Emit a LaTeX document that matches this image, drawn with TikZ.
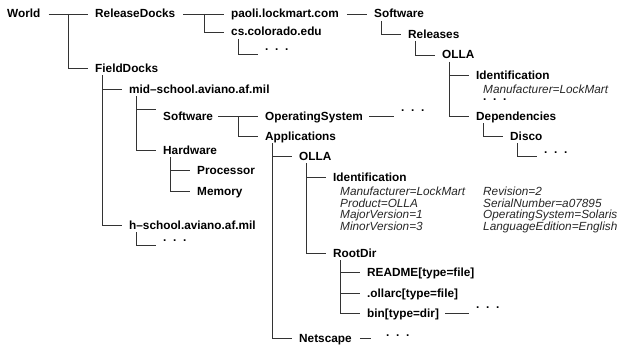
\documentclass[tikz,border=0pt]{standalone}
\usepackage{fontspec}
\setmainfont{Liberation Sans}
\tikzset{
  lbl/.style={anchor=base west,inner sep=0pt,font=\fontsize{11.8}{12}\selectfont\bfseries},
  attr/.style={anchor=base west,inner sep=0pt,font=\fontsize{11.8}{12}\selectfont\itshape,text=black!85},
  dotsn/.style={anchor=base west,inner sep=0pt,font=\fontsize{11.8}{12}\selectfont\bfseries},
  conn/.style={draw=black!80,line width=0.8pt}
}
% branch from parent down to child: #1 = height of the line above the child's baseline
\newcommand{\treebranch}[3][4pt]{\draw[conn] ([shift={(7pt,-3pt)}]#2.base west) |- ([shift={(-7pt,#1)}]#3.base west);}
% sibling branch: vertical drops from the horizontal link to the parent's first child
\newcommand{\forkbranch}[2]{\draw[conn] ([shift={(-27pt,4pt)}]#1.base west) |- ([shift={(-7pt,4pt)}]#2.base west);}
% straight link
\newcommand{\treelink}[3][8pt]{\draw[conn] ([shift={(#1,4pt)}]#2.base east) -- ([shift={(-7pt,4pt)}]#3.base west);}
\newcommand{\ddd}{.\hspace{6.7pt}.\hspace{6.7pt}.}
\begin{document}
\begin{tikzpicture}[x=1pt,y=-1pt]
\useasboundingbox (0,0) rectangle (618,345);
\node[lbl] (world) at (7,18) {World};
\node[lbl] (rd) at (95,18) {ReleaseDocks};
\node[lbl] (paoli) at (231,18) {paoli.lockmart.com};
\node[lbl] (sw1) at (374,18) {Software};
\node[lbl] (cs) at (231,36) {cs.colorado.edu};
\node[dotsn] (d1) at (265,50.5) {\ddd};
\node[lbl] (rel) at (408,38) {Releases};
\node[lbl] (olla1) at (442,59) {OLLA};
\node[lbl] (id1) at (476,79) {Identification};
\node[attr] (m1) at (483,93) {Manufacturer=LockMart};
\node[dotsn] (d2) at (483,100) {\ddd};
\node[lbl] (dep) at (476,120) {Dependencies};
\node[lbl] (disco) at (510,140) {Disco};
\node[dotsn] (d3) at (544,153) {\ddd};
\node[lbl] (fd) at (95,72) {FieldDocks};
\node[lbl] (mid) at (129,93) {mid–school.aviano.af.mil};
\node[lbl] (sw2) at (163,120) {Software};
\node[lbl] (os) at (265,120) {OperatingSystem};
\node[dotsn] (d4) at (401,111) {\ddd};
\node[lbl] (app) at (265,140) {Applications};
\node[lbl] (hw) at (163,154) {Hardware};
\node[lbl] (proc) at (197,174) {Processor};
\node[lbl] (mem) at (197,195) {Memory};
\node[lbl] (h) at (129,229) {h–school.aviano.af.mil};
\node[dotsn] (d5) at (163,241) {\ddd};
\node[lbl] (olla2) at (299,160) {OLLA};
\node[lbl] (id2) at (333,181) {Identification};
\node[attr] (a1) at (340,195) {Manufacturer=LockMart};
\node[attr] (a2) at (340,207) {Product=OLLA};
\node[attr] (a3) at (340,218) {MajorVersion=1};
\node[attr] (a4) at (340,230) {MinorVersion=3};
\node[attr] (b1) at (483,195) {Revision=2};
\node[attr] (b2) at (483,207) {SerialNumber=a07895};
\node[attr] (b3) at (483,218) {OperatingSystem=Solaris};
\node[attr] (b4) at (483,230) {LanguageEdition=English};
\node[lbl] (root) at (333,257) {RootDir};
\node[lbl] (readme) at (367,276) {README[type=file]};
\node[lbl] (ollarc) at (367,297) {.ollarc[type=file]};
\node[lbl] (bin) at (367,317) {bin[type=dir]};
\node[dotsn] (d6) at (476,308) {\ddd};
\node[lbl] (net) at (299,342) {Netscape};
\node[dotsn] (d7) at (386,336) {\ddd};
% connectors
\treelink{world}{rd}
\treelink{rd}{paoli}
\treelink{paoli}{sw1}
\forkbranch{rd}{fd}
\forkbranch{paoli}{cs}
\treebranch[-3.5pt]{cs}{d1}
\treebranch{sw1}{rel}
\treebranch{rel}{olla1}
\treebranch{olla1}{id1}
\treebranch{olla1}{dep}
\treebranch{dep}{disco}
\treebranch[-3pt]{disco}{d3}
\treebranch{fd}{mid}
\treebranch{fd}{h}
\treebranch{mid}{hw}
\draw[conn] ([shift={(7pt,-16pt)}]mid.base west) -- ([shift={(-7pt,11pt)}]sw2.base west);
\treelink[5pt]{sw2}{os}
\forkbranch{os}{app}
\treebranch{hw}{proc}
\treebranch{hw}{mem}
\treebranch[-4pt]{h}{d5}
\treebranch{app}{olla2}
\treebranch{app}{net}
\treebranch{olla2}{id2}
\treebranch{olla2}{root}
\treebranch{root}{readme}
\treebranch{root}{ollarc}
\treebranch{root}{bin}
\draw[conn] ([shift={(6pt,4pt)}]os.base east) -- ([shift={(-7pt,4pt)}]d4.base west |- os.base west);
\draw[conn] ([shift={(6pt,4pt)}]bin.base east) -- ([shift={(-7pt,4pt)}]d6.base west |- bin.base west);
\draw[conn] ([shift={(8pt,4pt)}]net.base east) -- ([shift={(-15pt,4pt)}]d7.base west |- net.base west);
\end{tikzpicture}
\end{document}
